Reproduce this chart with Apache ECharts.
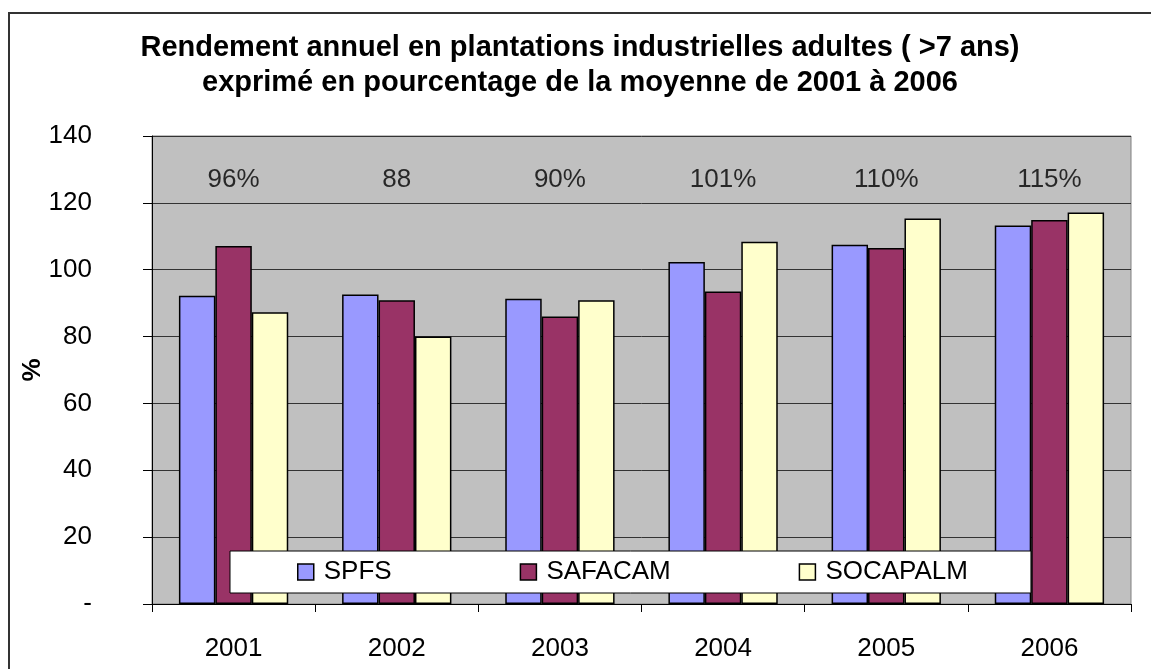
<!DOCTYPE html>
<html>
<head>
<meta charset="utf-8">
<script src="https://cdn.jsdelivr.net/npm/echarts@6/dist/echarts.min.js"></script>
<style>
  html, body { margin: 0; padding: 0; background: #fff; }
  #chart { width: 1151px; height: 669px; }
</style>
</head>
<body>
<div id="chart"></div>
<script>
// données
const years = ['2001', '2002', '2003', '2004', '2005', '2006'];
const spfs = [92.2, 92.6, 91.3, 102.3, 107.5, 113.2];
const safacam = [107.1, 90.9, 86.0, 93.5, 106.5, 114.9];
const socapalm = [87.3, 80.0, 90.9, 108.4, 115.3, 117.1];
const topLabels = ['96%', '88', '90%', '101%', '110%', '115%'];
const topLabelLevel = 127;

const font = "'Liberation Sans', Arial, sans-serif";
const chart = echarts.init(document.getElementById('chart'));

const barSeries = (name, data, color) => ({
  name: name,
  type: 'bar',
  data: data,
  barGap: '0%',
  barCategoryGap: '33%',
  itemStyle: { color: color, borderColor: '#000', borderWidth: 1.5 },
  emphasis: { disabled: true }
});

chart.setOption({
  animation: false,
  textStyle: { fontFamily: font },
  title: {
    text: 'Rendement annuel en plantations industrielles adultes ( >7 ans)\nexprimé en pourcentage de la moyenne de 2001 à 2006',
    left: 575,
    top: 25,
    textAlign: 'center',
    textStyle: { fontFamily: font, fontSize: 29, fontWeight: 'bold', color: '#000', lineHeight: 35 }
  },
  grid: { left: 152, right: 20, top: 136, bottom: 65, show: true, backgroundColor: '#C0C0C0', borderColor: '#808080', borderWidth: 1 },
  legend: {
    data: ['SPFS', 'SAFACAM', 'SOCAPALM'],
    left: 230,
    top: 551,
    orient: 'horizontal',
    backgroundColor: '#fff',
    borderColor: '#000',
    borderWidth: 1,
    padding: [8, 63, 8, 67],
    itemWidth: 16,
    itemHeight: 16,
    itemGap: 128,
    icon: 'rect',
    itemStyle: { borderColor: '#000', borderWidth: 1.5 },
    textStyle: { fontFamily: font, fontSize: 26, color: '#000', padding: [0, 0, 0, 5] }
  },
  xAxis: {
    type: 'category',
    data: years,
    axisLine: { lineStyle: { color: '#000', width: 1 } },
    axisTick: { show: true, length: 8, lineStyle: { color: '#000' } },
    axisLabel: { fontFamily: font, fontSize: 26, color: '#000', margin: 32 }
  },
  yAxis: {
    type: 'value',
    min: 0,
    max: 140,
    interval: 20,
    name: '%',
    nameLocation: 'middle',
    nameGap: 106,
    nameMoveOverlap: false,
    nameRotate: 90,
    nameTextStyle: { fontFamily: font, fontSize: 26, fontWeight: 'bold', color: '#000' },
    axisLine: { show: true, lineStyle: { color: '#000', width: 1 } },
    axisTick: { show: true, length: 9, lineStyle: { color: '#000' } },
    axisLabel: {
      fontFamily: font, fontSize: 26, color: '#000', margin: 60,
      formatter: v => (v === 0 ? '-' : String(v))
    },
    splitLine: { show: true, lineStyle: { color: '#333', width: 1 } }
  },
  graphic: [{
    type: 'rect',
    shape: { x: 9, y: 13, width: 1160, height: 700 },
    style: { fill: 'none', stroke: '#333', lineWidth: 2 },
    z: 100
  }],
  series: [
    barSeries('SPFS', spfs, '#9999FF'),
    barSeries('SAFACAM', safacam, '#993366'),
    barSeries('SOCAPALM', socapalm, '#FFFFCC'),
    {
      name: 'labels',
      type: 'scatter',
      symbolSize: 0,
      silent: true,
      data: topLabels.map(() => topLabelLevel),
      label: {
        show: true,
        position: 'inside',
        fontFamily: font,
        fontSize: 26,
        color: '#000',
        formatter: p => topLabels[p.dataIndex]
      }
    }
  ]
});
</script>
</body>
</html>
